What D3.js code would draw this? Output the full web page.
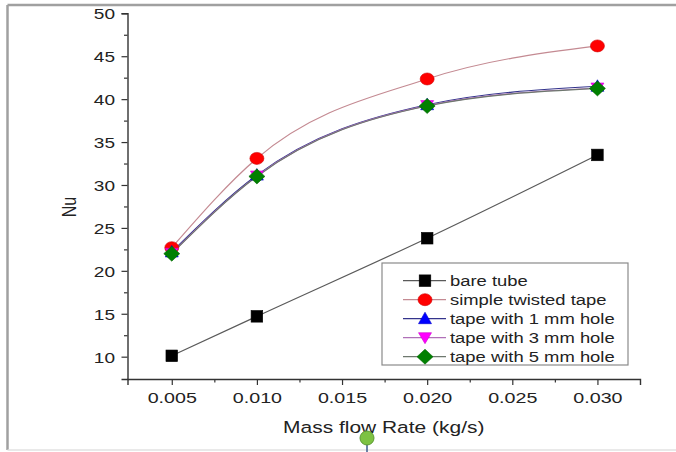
<!DOCTYPE html>
<html>
<head>
<meta charset="utf-8">
<script src="https://cdn.jsdelivr.net/npm/d3@7"></script>
<style>
  html, body { margin: 0; padding: 0; background: #fff; }
  svg { display: block; }
  text { font-family: "Liberation Sans", Arial, sans-serif; fill: #222; }
</style>
</head>
<body>
<div id="chart"></div>
<script>
// Mass flow rates (kg/s)
const massFlow = [0.005, 0.010, 0.020, 0.030];

// Nusselt number per configuration
const bareTube      = [10.1, 14.7, 23.8, 33.5];
const simpleTwisted = [22.7, 33.1, 42.35, 46.2];
const hole1mm       = [22.2, 31.15, 39.35, 41.5];
const hole3mm       = [22.05, 31.05, 39.25, 41.3];
const hole5mm       = [22.0, 31.0, 39.2, 41.25];

const seriesNames = ["bare tube", "simple twisted tape", "tape with 1 mm hole",
                     "tape with 3 mm hole", "tape with 5 mm hole"];

const xTicks = [0.005, 0.010, 0.015, 0.020, 0.025, 0.030];
const xMinorTicks = [0.0075, 0.0125, 0.0175, 0.0225, 0.0275];
const yTicks = [10, 15, 20, 25, 30, 35, 40, 45, 50];
const yMinorTicks = [12.5, 17.5, 22.5, 27.5, 32.5, 37.5, 42.5, 47.5];

const W = 676, H = 452;
const plot = { left: 127.5, right: 640, top: 13.3, bottom: 379 };
const STRETCH = 1.27; // horizontal text stretch

const series = [
  { name: seriesNames[0], values: bareTube,      line: "#5a5a5a", fill: "#000000", shape: "square" },
  { name: seriesNames[1], values: simpleTwisted, line: "#c48a92", fill: "#ff0000", shape: "circle" },
  { name: seriesNames[2], values: hole1mm,       line: "#34348c", fill: "#0000ff", shape: "up" },
  { name: seriesNames[3], values: hole3mm,       line: "#b070b8", fill: "#ff00ff", shape: "down" },
  { name: seriesNames[4], values: hole5mm,       line: "#6e786e", fill: "#008000", shape: "diamond" }
];

const svg = d3.select("#chart").append("svg")
  .attr("width", W).attr("height", H);

// page frame
svg.append("line").attr("x1", 7.5).attr("x2", W).attr("y1", 5).attr("y2", 5)
  .attr("stroke", "#a0a0a0").attr("stroke-width", 2.5);
svg.append("line").attr("x1", 7.5).attr("x2", 7.5).attr("y1", 5).attr("y2", 450)
  .attr("stroke", "#a0a0a0").attr("stroke-width", 2.5);
svg.append("line").attr("x1", 7.5).attr("x2", W).attr("y1", 450).attr("y2", 450)
  .attr("stroke", "#e2e2e2").attr("stroke-width", 1.5);

const x = d3.scaleLinear().domain([0.0024, 0.0325]).range([plot.left, plot.right]);
const y = d3.scaleLinear().domain([7.4, 50]).range([plot.bottom, plot.top]);

// axes
const axisColor = "#333";
const gx = svg.append("g").attr("transform", `translate(0,${plot.bottom})`);
gx.call(d3.axisBottom(x).tickValues(xTicks).tickSize(6).tickFormat(d3.format(".3f")));
const gxm = svg.append("g").attr("transform", `translate(0,${plot.bottom})`);
gxm.call(d3.axisBottom(x).tickValues(xMinorTicks).tickSize(3.5).tickFormat(""));
gxm.select(".domain").remove();

const gy = svg.append("g").attr("transform", `translate(${plot.left},0)`);
gy.call(d3.axisLeft(y).tickValues(yTicks).tickSize(6).tickFormat(d3.format("d")));
const gym = svg.append("g").attr("transform", `translate(${plot.left},0)`);
gym.call(d3.axisLeft(y).tickValues(yMinorTicks).tickSize(3.5).tickFormat(""));
gym.select(".domain").remove();

svg.selectAll(".domain").attr("stroke", axisColor).attr("stroke-width", 1.4);
svg.selectAll(".tick line").attr("stroke", axisColor).attr("stroke-width", 1.2);

gx.selectAll(".tick text")
  .attr("x", null).attr("y", null).attr("dy", null)
  .attr("text-anchor", "middle")
  .attr("transform", `translate(0,24.3) scale(${STRETCH},1)`)
  .style("font-size", "15.5px").style("fill", "#222");

gy.selectAll(".tick text")
  .attr("x", null).attr("y", null).attr("dy", "0.36em")
  .attr("text-anchor", "end")
  .attr("transform", `translate(-12.5,0) scale(${STRETCH},1)`)
  .style("font-size", "15px").style("fill", "#222");

// axis titles
svg.append("text")
  .attr("text-anchor", "middle")
  .attr("transform", `translate(${(plot.left + plot.right) / 2},433) scale(${STRETCH},1)`)
  .style("font-size", "16.5px")
  .text("Mass flow Rate (kg/s)");

svg.append("text")
  .attr("text-anchor", "middle")
  .attr("transform", `translate(76,207) scale(${STRETCH},1) rotate(-90)`)
  .style("font-size", "16px")
  .text("Nu");

// marker shapes
function drawSymbol(g, shape, color) {
  let el;
  if (shape === "square") {
    el = g.append("rect").attr("x", -5.8).attr("y", -5.8).attr("width", 11.6).attr("height", 11.6);
  } else if (shape === "circle") {
    el = g.append("ellipse").attr("rx", 7).attr("ry", 6);
  } else if (shape === "up") {
    el = g.append("path").attr("d", "M0,-6.5 L6.5,5 L-6.5,5 Z");
  } else if (shape === "down") {
    el = g.append("path").attr("d", "M0,6 L6.5,-5 L-6.5,-5 Z");
  } else {
    el = g.append("path").attr("d", "M0,-7.5 L8,0 L0,7.5 L-8,0 Z");
  }
  el.attr("fill", color).attr("stroke", d3.color(color).darker(0.6)).attr("stroke-width", 0.6);
}

const line = d3.line()
  .x((d, i) => x(massFlow[i]))
  .y(d => y(d))
  .curve(d3.curveMonotoneX);

// curves
series.forEach(s => {
  svg.append("path")
    .attr("d", line(s.values))
    .attr("fill", "none")
    .attr("stroke", s.line)
    .attr("stroke-width", 1.2);
});

// markers
series.forEach(s => {
  s.values.forEach((v, i) => {
    const g = svg.append("g").attr("transform", `translate(${x(massFlow[i])},${y(v)})`);
    drawSymbol(g, s.shape, s.fill);
  });
});

// legend
const legend = svg.append("g");
legend.append("rect")
  .attr("x", 382).attr("y", 263).attr("width", 246).attr("height", 102)
  .attr("fill", "#fff").attr("stroke", "#8a8a8a").attr("stroke-width", 1.2);
series.forEach((s, i) => {
  const ry = 280.7 + i * 19;
  const g = legend.append("g").attr("transform", `translate(0,${ry})`);
  g.append("line").attr("x1", 403).attr("x2", 446).attr("y1", 0).attr("y2", 0)
    .attr("stroke", s.line).attr("stroke-width", 1.2);
  drawSymbol(g.append("g").attr("transform", "translate(425,0)"), s.shape, s.fill);
  g.append("text")
    .attr("transform", `translate(450,5.2) scale(${STRETCH},1)`)
    .style("font-size", "14.5px")
    .text(s.name);
});

// pin marker under the axis title
const pin = svg.append("g").attr("transform", "translate(367,438)");
pin.append("line").attr("x1", 0).attr("x2", 0).attr("y1", 6).attr("y2", 16)
  .attr("stroke", "#3b5b8c").attr("stroke-width", 1.5);
pin.append("circle").attr("r", 7)
  .attr("fill", "#7dc242").attr("stroke", "#5c9a33").attr("stroke-width", 1);
</script>
</body>
</html>
